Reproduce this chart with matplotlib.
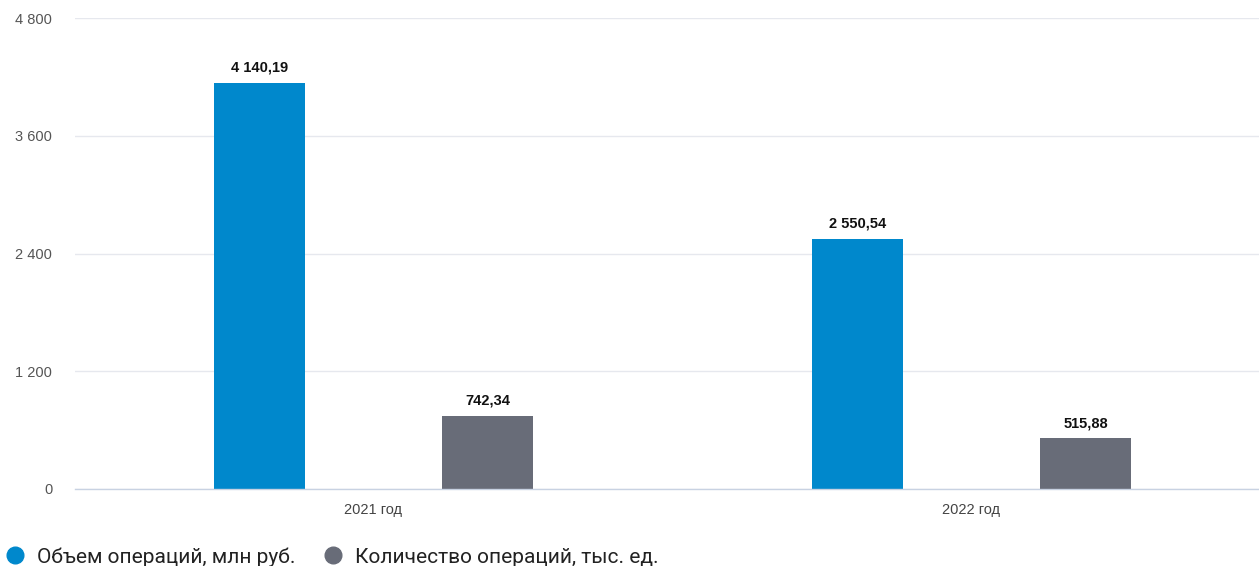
import matplotlib
matplotlib.use("Agg")
import matplotlib.pyplot as plt
from matplotlib.lines import Line2D
import numpy as np

categories = ["2021 год", "2022 год"]
series_names = ["Объем операций, млн руб.", "Количество операций, тыс. ед."]
volume = [4140.19, 2550.54]
count = [742.34, 515.88]
labels_volume = ["4 140,19", "2 550,54"]
labels_count = ["742,34", "515,88"]
yticks = [0, 1200, 2400, 3600, 4800]
ytick_labels = ["0", "1 200", "2 400", "3 600", "4 800"]

colors = ["#0088CC", "#686C78"]

plt.rcParams["font.family"] = ["Liberation Sans", "DejaVu Sans"]

fig = plt.figure(figsize=(12.59, 5.66), dpi=100)
W, H = 1259, 566
left, right = 74.5, 1270.5
top, bottom = 18, 489
ax = fig.add_axes([left / W, 1 - bottom / H, (right - left) / W, (bottom - top) / H])

x = np.arange(len(categories))
bw = 0.153
off = 0.191
b1 = ax.bar(x - off, volume, bw, color=colors[0], zorder=3)
b2 = ax.bar(x + off, count, bw, color=colors[1], zorder=3)

for bars, labs in ((b1, labels_volume), (b2, labels_count)):
    for rect, lab in zip(bars, labs):
        ax.annotate(lab, (rect.get_x() + rect.get_width() / 2, rect.get_height()),
                    xytext=(0, 6), textcoords="offset points", ha="center", va="bottom",
                    fontsize=10.5, fontweight="bold", color="#111111")

ax.set_xlim(-0.5, len(categories) - 0.5)
ax.set_ylim(0, 4800)
ax.set_yticks(yticks)
ax.set_yticklabels(ytick_labels, fontsize=10.5, color="#555555")
ax.set_xticks(x)
ax.set_xticklabels(categories, fontsize=10.5, color="#444444")
ax.tick_params(axis="both", length=0)
ax.tick_params(axis="y", pad=16)
ax.tick_params(axis="x", pad=10)
ax.grid(axis="y", color="#E6E8EE", linewidth=1, zorder=0)
for s in ["top", "right", "left"]:
    ax.spines[s].set_visible(False)
ax.spines["bottom"].set_color("#C8D2E2")
ax.spines["bottom"].set_linewidth(1)
ax.spines["bottom"].set_zorder(4)

handles = [Line2D([], [], marker="o", linestyle="none", markersize=12,
                  markerfacecolor=c, markeredgecolor=c) for c in colors]
leg = fig.legend(handles, series_names, loc="lower left", bbox_to_anchor=(-0.008, -0.027),
                 ncol=2, frameon=False, handletextpad=0.55, columnspacing=1.3,
                 borderpad=0.2, handlelength=1.0,
                 prop={"family": ["Roboto", "DejaVu Sans"], "size": 15})
for t in leg.get_texts():
    t.set_color("#222222")
fig.savefig("out.png", dpi=100)
